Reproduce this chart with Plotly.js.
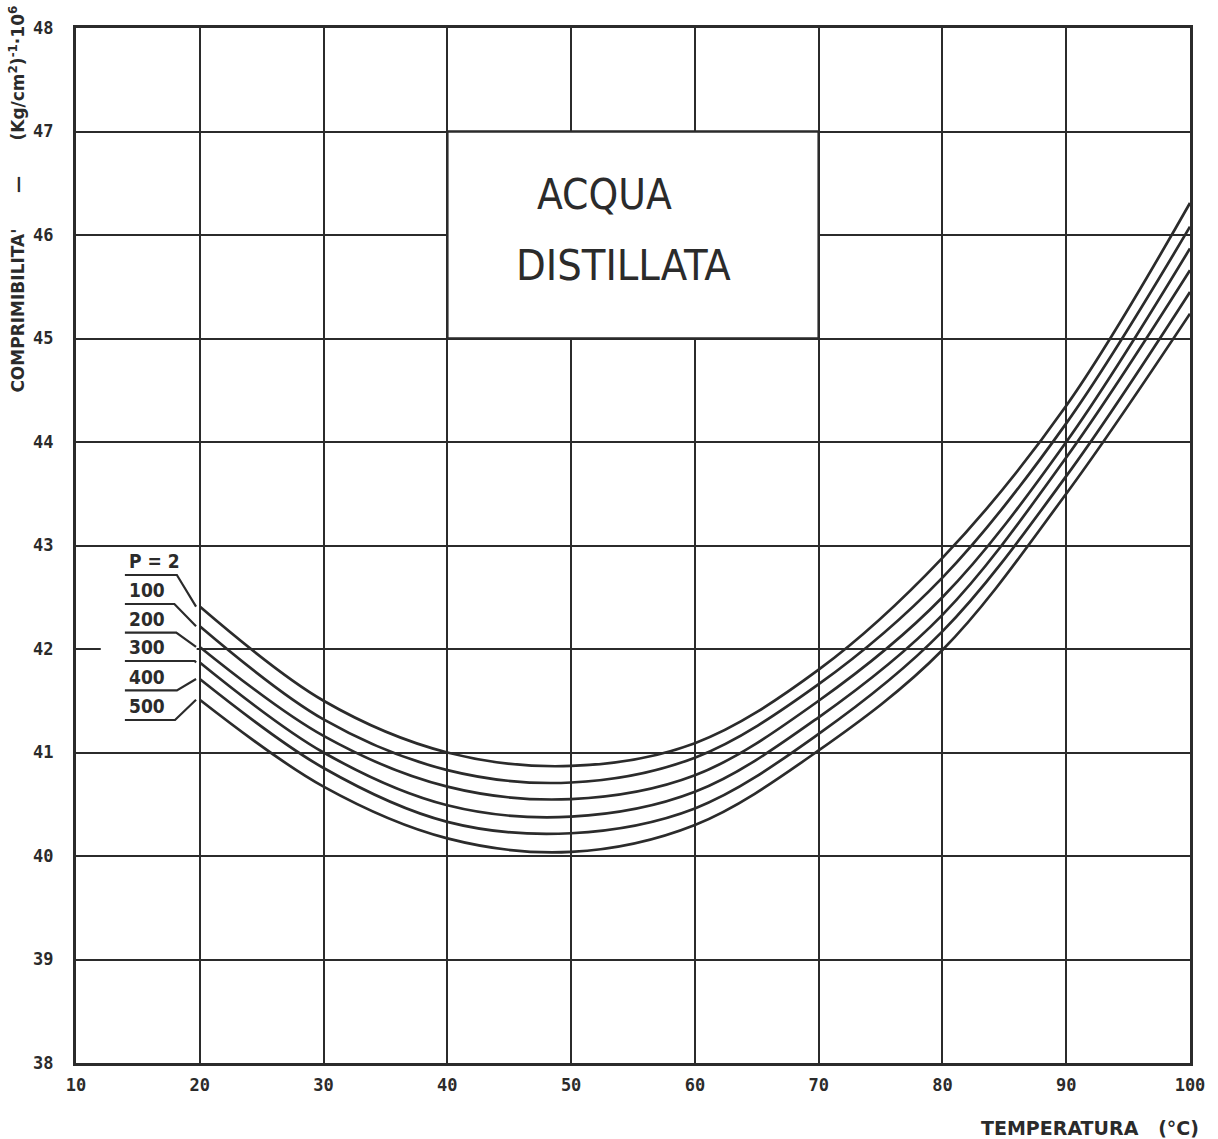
<!DOCTYPE html>
<html>
<head>
<meta charset="utf-8">
<script src="https://cdn.plot.ly/plotly-3.0.1.min.js"></script>
<style>html,body{margin:0;padding:0;background:#fff;}</style>
</head>
<body>
<div id="chart" style="width:1218px;height:1139px;"></div>
<script>
// Temperature (°C)
var temperature = [20, 30, 40, 50, 60, 70, 80, 90, 100];
// Pressure labels (kg/cm²)
var pressureLabels = ["P = 2", "100", "200", "300", "400", "500"];
// Compressibility ((kg/cm²)^-1 x 10^6) per pressure
var p2   = [42.41, 41.50, 41.00, 40.87, 41.09, 41.80, 42.88, 44.35, 46.31];
var p100 = [42.22, 41.32, 40.83, 40.71, 40.95, 41.66, 42.69, 44.18, 46.08];
var p200 = [42.02, 41.16, 40.67, 40.55, 40.78, 41.50, 42.50, 44.00, 45.87];
var p300 = [41.87, 41.00, 40.49, 40.38, 40.62, 41.34, 42.33, 43.85, 45.66];
var p400 = [41.71, 40.85, 40.33, 40.22, 40.46, 41.18, 42.17, 43.67, 45.45];
var p500 = [41.51, 40.67, 40.17, 40.04, 40.30, 41.02, 41.99, 43.50, 45.24];
var series = [p2, p100, p200, p300, p400, p500];

// axis ticks
var xTicks = [10, 20, 30, 40, 50, 60, 70, 80, 90, 100];
var yTicks = [38, 39, 40, 41, 42, 43, 44, 45, 46, 47, 48];

// label placement (layout only)
var labelX = 13.95, elbowX = [18.15, 17.95, 18.1, 19.6, 18.15, 18.0], leaderEndX = 19.7;
var labelY = [42.715, 42.435, 42.158, 41.884, 41.60, 41.314];

var ink = "#2b2b2b";
var traces = series.map(function (s) {
  return {
    x: temperature, y: s, type: "scatter", mode: "lines",
    line: {color: ink, width: 2.7, shape: "spline", smoothing: 1},
    hoverinfo: "skip"
  };
});
// leader lines from each label to the start of its curve
series.forEach(function (s, i) {
  traces.push({
    x: [labelX, elbowX[i], leaderEndX], y: [labelY[i], labelY[i], s[0]],
    type: "scatter", mode: "lines", line: {color: ink, width: 2.2},
    hoverinfo: "skip"
  });
});

var shapes = [{
  type: "rect", xref: "x", yref: "y", x0: 40, x1: 70, y0: 45, y1: 47,
  fillcolor: "#ffffff", line: {color: ink, width: 2.5}, layer: "between"
}, {
  type: "rect", xref: "x", yref: "y", x0: 12.0, x1: 19.75, y0: 41.2, y1: 42.9,
  fillcolor: "#ffffff", line: {width: 0}, layer: "between"
}];
var annotations = [];
series.forEach(function (s, i) {
  annotations.push({
    xref: "x", yref: "y", x: labelX + 0.15, y: labelY[i] + 0.005, xanchor: "left", yanchor: "bottom",
    text: pressureLabels[i], showarrow: false,
    font: {family: "DejaVu Sans Condensed", size: 19, color: ink, weight: "bold"}
  });
});

annotations.push({
  xref: "x", yref: "y", x: 47.1, y: 46.39, xanchor: "left", yanchor: "middle",
  text: "ACQUA", showarrow: false,
  font: {family: "DejaVu Sans Condensed", size: 42, color: ink}
});
annotations.push({
  xref: "x", yref: "y", x: 45.4, y: 45.71, xanchor: "left", yanchor: "middle",
  text: "DISTILLATA", showarrow: false,
  font: {family: "DejaVu Sans Condensed", size: 43, color: ink}
});
annotations.push({
  xref: "paper", yref: "paper", x: -0.053, y: 1.024, xanchor: "center", yanchor: "top",
  textangle: -90, showarrow: false,
  text: "COMPRIMIBILITA'      \u2014      (Kg/cm<sup>2</sup>)<sup>-1</sup>\u00b710<sup>6</sup>",
  font: {family: "DejaVu Sans", size: 17, color: ink, weight: "bold"}
});
annotations.push({
  xref: "paper", yref: "paper", x: 1.01, y: -0.05, xanchor: "right", yanchor: "top",
  text: "TEMPERATURA   (\u00b0C)", showarrow: false,
  font: {family: "DejaVu Sans", size: 19, color: ink, weight: "bold"}
});

var tickFont = {family: "DejaVu Sans Mono", size: 17, color: ink, weight: "bold"};
var layout = {
  width: 1218, height: 1139,
  margin: {l: 76, r: 28, t: 28, b: 76, pad: 0},
  paper_bgcolor: "#ffffff", plot_bgcolor: "#ffffff",
  showlegend: false,
  xaxis: {
    range: [10, 100], tickvals: xTicks, ticktext: xTicks.map(String),
    showgrid: true, gridcolor: ink, gridwidth: 2,
    showline: true, mirror: true, linecolor: ink, linewidth: 3,
    zeroline: false, ticks: "", tickfont: tickFont, ticklabelstandoff: 5
  },
  yaxis: {
    range: [38, 48], tickvals: yTicks, ticktext: yTicks.map(String),
    showgrid: true, gridcolor: ink, gridwidth: 2,
    showline: true, mirror: true, linecolor: ink, linewidth: 3,
    zeroline: false, ticks: "", tickfont: tickFont, ticklabelstandoff: 16
  },
  shapes: shapes,
  annotations: annotations
};

Plotly.newPlot("chart", traces, layout, {displayModeBar: false, staticPlot: true});
</script>
</body>
</html>
